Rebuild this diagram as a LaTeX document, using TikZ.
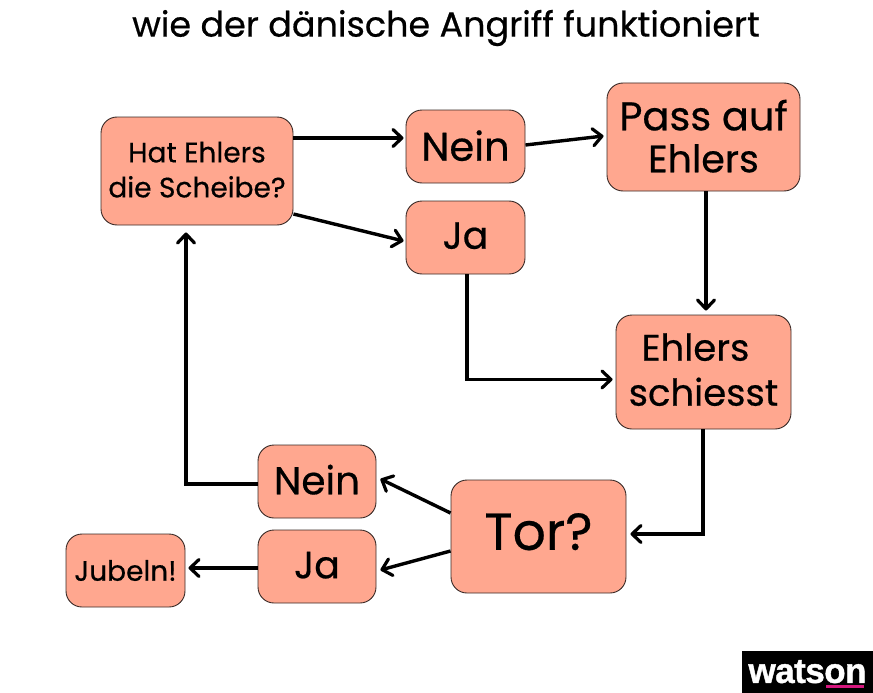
\documentclass[tikz,border=0pt]{standalone}
\usepackage{fontspec}
\setmainfont{Poppins}[FakeBold=0.5]
\newfontfamily\logofont{Liberation Sans}[FakeBold=1.2,LetterSpace=-1.5]
\usetikzlibrary{arrows.meta,calc}
\definecolor{boxfill}{HTML}{FFA78F}
\definecolor{boxline}{HTML}{3A2A26}
\definecolor{logopink}{HTML}{D6177E}
\tikzset{
  flowbox/.style={draw=boxline,fill=boxfill,line width=0.9pt,rounded corners=16pt,align=center,inner sep=0pt,text=black},
  link/.style={draw=black,line width=3.4pt,-{Straight Barb[length=9pt,width=17pt,line width=3.2pt,round]}},
  lab/.style={inner sep=0pt,text=black},
}
\begin{document}
\begin{tikzpicture}[x=1pt,y=-1pt]
\useasboundingbox (0,0) rectangle (873,693);
\node[lab,font=\fontsize{35}{42}\selectfont] (title) at (446,28) {wie der dänische Angriff funktioniert};

\node[flowbox,minimum width=192pt,minimum height=108pt,font=\fontsize{28}{35}\selectfont] (hat) at (197,171) {\raisebox{3pt}{Hat Ehlers}\\\raisebox{3pt}{die Scheibe?}};
\node[flowbox,minimum width=119pt,minimum height=73pt,font=\fontsize{40}{46}\selectfont] (nein1) at (465.5,146.5) {\raisebox{2pt}{Nein}};
\node[flowbox,minimum width=119pt,minimum height=73pt,font=\fontsize{38}{46}\selectfont] (ja1) at (465.5,237.5) {\raisebox{4pt}{Ja}};
\node[flowbox,minimum width=193pt,minimum height=108pt,font=\fontsize{40}{42}\selectfont] (pass) at (703.5,137) {\raisebox{2pt}{Pass auf}\\\fontsize{38}{42}\selectfont\raisebox{2pt}{Ehlers}};
\node[flowbox,minimum width=175pt,minimum height=114pt,font=\fontsize{37}{45}\selectfont] (schuss) at (703.5,372) {\raisebox{5pt}{\hspace*{-16pt}Ehlers}\\\raisebox{5pt}{schiesst}};
\node[flowbox,minimum width=175pt,minimum height=113pt,font=\fontsize{52}{60}\selectfont] (tor) at (538.5,536.5) {\raisebox{10pt}{Tor?}};
\node[flowbox,minimum width=118pt,minimum height=73pt,font=\fontsize{39}{46}\selectfont] (nein2) at (317,481.5) {\raisebox{4pt}{Nein}};
\node[flowbox,minimum width=118pt,minimum height=73pt,font=\fontsize{38}{46}\selectfont] (ja2) at (317,566.5) {\raisebox{3pt}{Ja}};
\node[flowbox,minimum width=119pt,minimum height=73pt,font=\fontsize{28}{34}\selectfont] (jubeln) at (125.5,570.5) {Jubeln!};

\node[fill=black,minimum width=131pt,minimum height=42pt,inner sep=0pt,text=white,font=\logofont\bfseries\fontsize{35}{38}\selectfont] (logo) at (807.5,672) {\raisebox{1pt}{watson}};
\fill[logopink] (826,685) rectangle (864,688);

\draw[link] ([yshift=33pt]hat.east) -- ([xshift=-2pt,yshift=8.5pt]nein1.west);
\draw[link] ([yshift=-43pt]hat.east) -- ([xshift=-2pt,yshift=-3.5pt]ja1.west);
\draw[link] ([yshift=1.5pt]nein1.east) -- ([xshift=-3pt,yshift=1pt]pass.west);
\draw[link] ([xshift=2.5pt]pass.south) -- ([xshift=2.5pt,yshift=4pt]schuss.north);
\coordinate (jaknick) at ([xshift=1.5pt,yshift=-105pt]ja1.south);
\draw[link] ([xshift=1.5pt]ja1.south) -- (jaknick) -- ([xshift=-3pt]jaknick -| schuss.west);
\coordinate (torknick) at ([xshift=-0.5pt,yshift=2.5pt]schuss.south |- tor.east);
\draw[link] ([xshift=-0.5pt]schuss.south) -- (torknick) -- ([xshift=4pt,yshift=2.5pt]tor.east);
\draw[link] ([yshift=23.5pt]tor.west) -- ([xshift=4pt,yshift=2.5pt]nein2.east);
\draw[link] ([yshift=-14.5pt]tor.west) -- ([xshift=4pt,yshift=-3.5pt]ja2.east);
\coordinate (neinknick) at ([xshift=-11pt]hat.south |- nein2.west);
\draw[link] ([yshift=-2.5pt]nein2.west) -- ([yshift=-2.5pt]neinknick) -- ([xshift=-11pt,yshift=-7pt]hat.south);
\draw[link] ([yshift=-1.5pt]ja2.west) -- ([xshift=3pt,yshift=-1.5pt]ja2.west -| jubeln.east);
\end{tikzpicture}
\end{document}
